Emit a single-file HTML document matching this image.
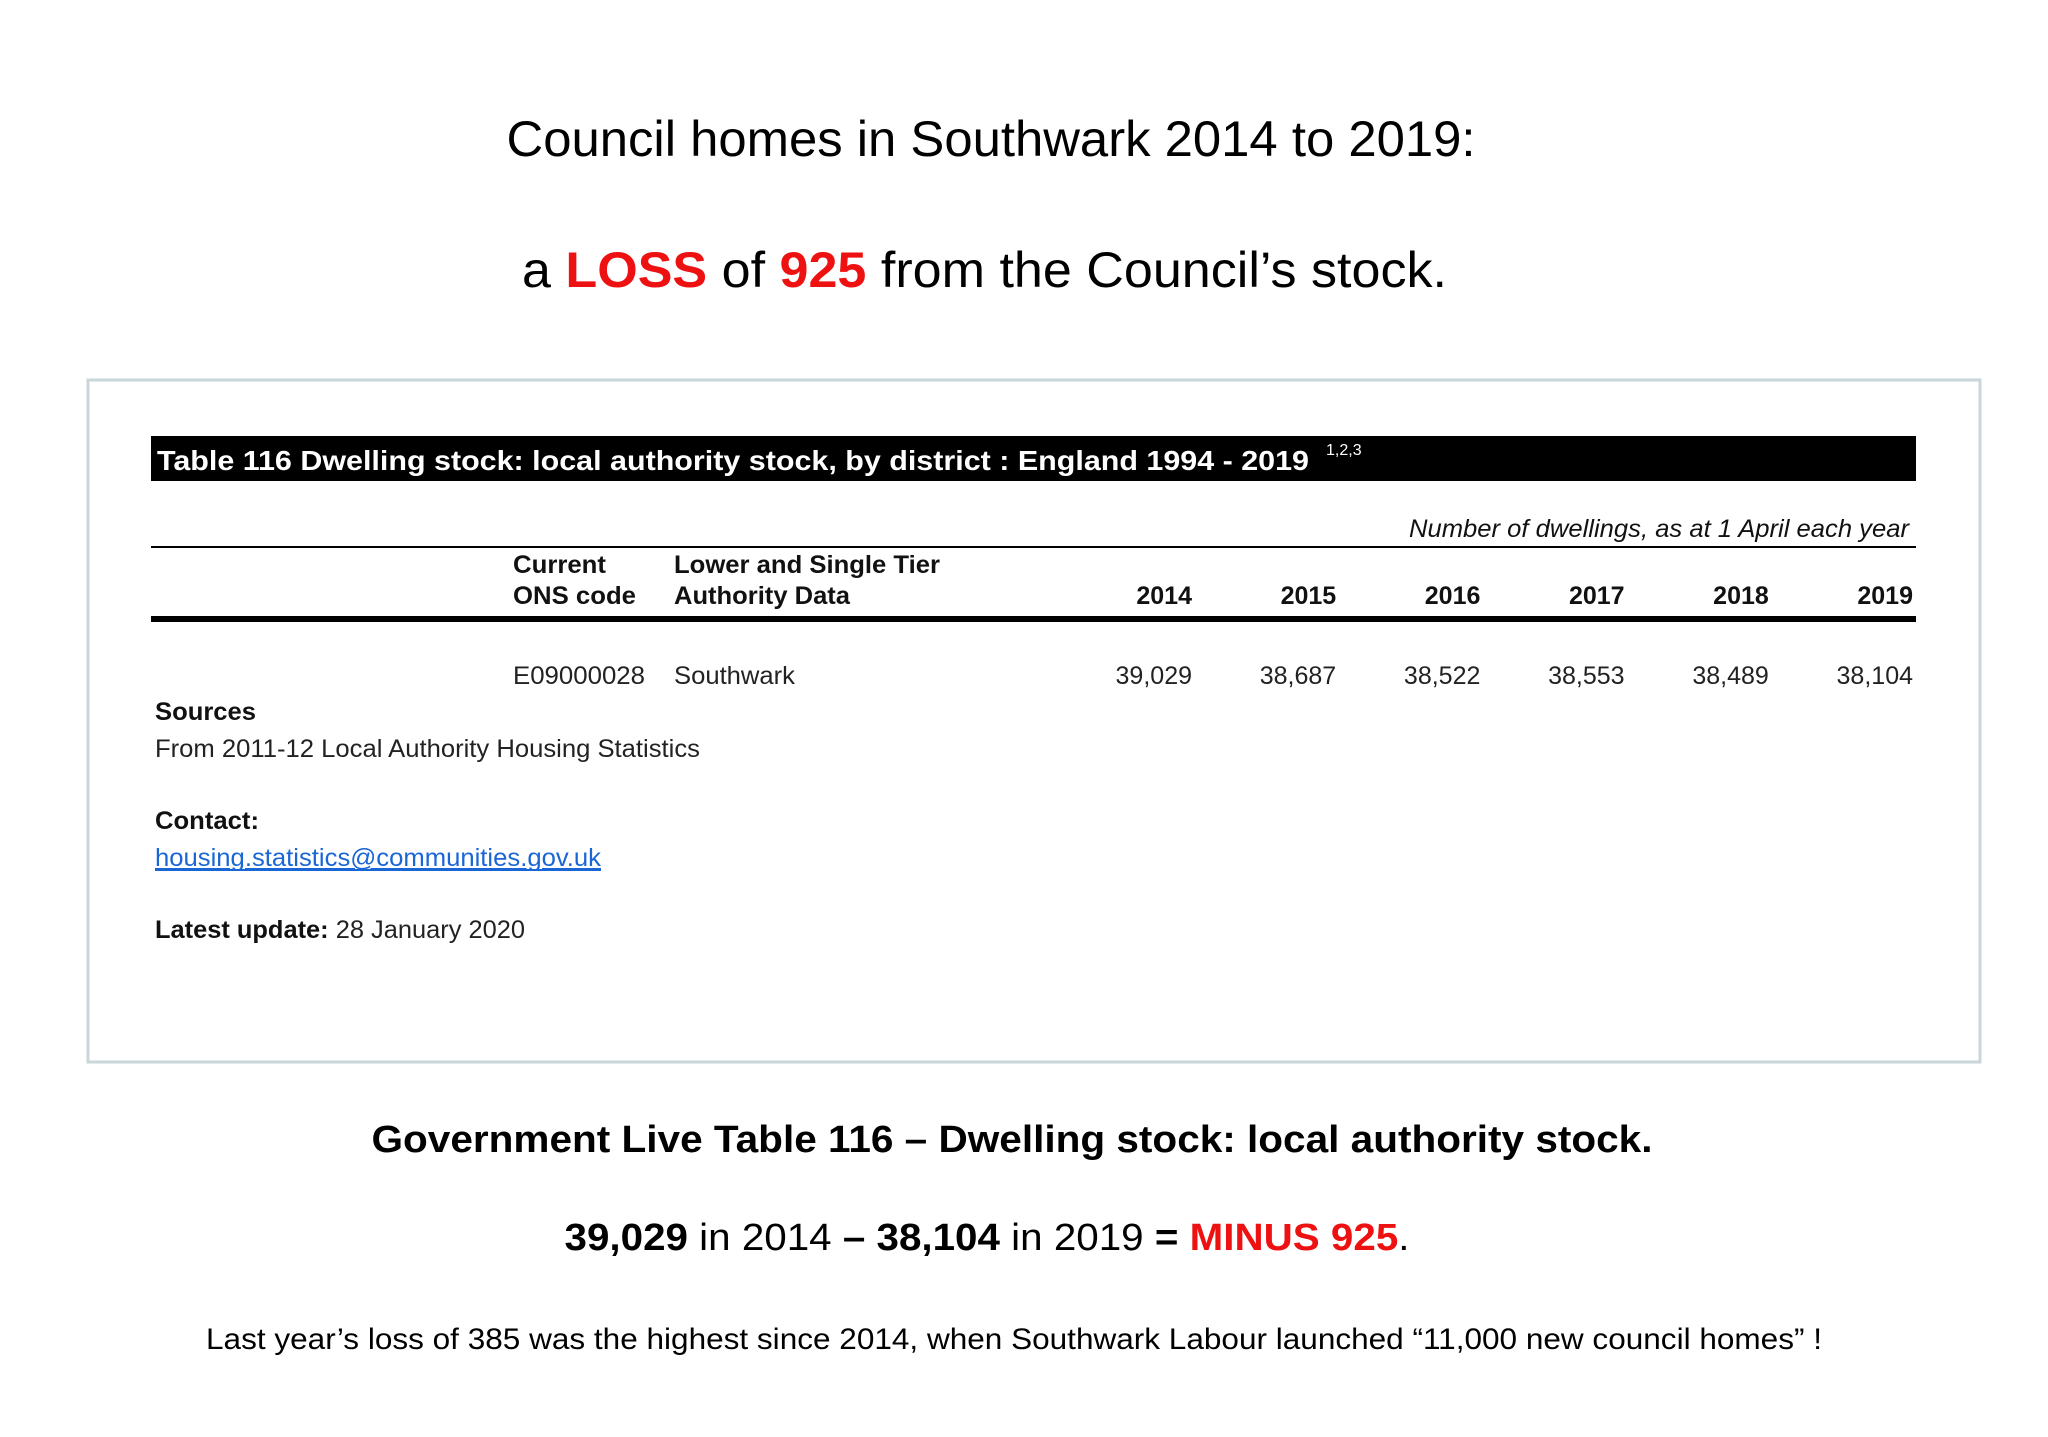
<!DOCTYPE html>
<html><head><meta charset="utf-8"><style>
html,body{margin:0;padding:0;background:#fff;width:2048px;height:1437px;overflow:hidden}
svg{display:block}
.g{font-family:"Liberation Sans",sans-serif}
</style></head><body>
<svg id="page" width="2048" height="1437" viewBox="0 0 2048 1437" class="g">
<text x="991" y="156" text-anchor="middle" font-size="50" textLength="969" lengthAdjust="spacingAndGlyphs" fill="#000">Council homes in Southwark 2014 to 2019:</text>
<text x="522" y="287" font-size="50" textLength="925" lengthAdjust="spacingAndGlyphs" fill="#000">a <tspan fill="#ee1111" font-weight="bold">LOSS</tspan> of <tspan fill="#ee1111" font-weight="bold">925</tspan> from the Council’s stock.</text>

<rect x="88" y="380" width="1892" height="682" fill="#fff" stroke="#c9d6da" stroke-width="3"/>
<rect x="151" y="436" width="1765" height="45" fill="#000"/>
<text x="157" y="470" font-size="28" font-weight="bold" fill="#fff" textLength="1152" lengthAdjust="spacingAndGlyphs">Table 116 Dwelling stock: local authority stock, by district : England 1994 - 2019</text>
<text x="1326" y="455" font-size="16" fill="#fff">1,2,3</text>
<text x="1909" y="537" text-anchor="end" font-size="25" font-style="italic" fill="#111" textLength="500" lengthAdjust="spacingAndGlyphs">Number of dwellings, as at 1 April each year</text>
<rect x="151" y="546" width="1765" height="2" fill="#000"/>
<g font-size="25" font-weight="bold" fill="#111">
<text x="513" y="573" textLength="93" lengthAdjust="spacingAndGlyphs">Current</text>
<text x="513" y="604" textLength="123" lengthAdjust="spacingAndGlyphs">ONS code</text>
<text x="674" y="573" textLength="266" lengthAdjust="spacingAndGlyphs">Lower and Single Tier</text>
<text x="674" y="604" textLength="176" lengthAdjust="spacingAndGlyphs">Authority Data</text>
</g>
<g id="years" font-size="25" font-weight="bold" fill="#111"></g>
<rect x="151" y="616" width="1765" height="6" fill="#000"/>
<g font-size="25" fill="#222">
<text x="513" y="684" textLength="132" lengthAdjust="spacingAndGlyphs">E09000028</text>
<text x="674" y="684" textLength="121" lengthAdjust="spacingAndGlyphs">Southwark</text>
</g>
<g id="vals" font-size="25" fill="#222"></g>
<text x="155" y="720" font-size="25" font-weight="bold" fill="#111" textLength="101" lengthAdjust="spacingAndGlyphs">Sources</text>
<text x="155" y="757" font-size="25" fill="#222" textLength="545" lengthAdjust="spacingAndGlyphs">From 2011-12 Local Authority Housing Statistics</text>
<text x="155" y="829" font-size="25" font-weight="bold" fill="#111" textLength="104" lengthAdjust="spacingAndGlyphs">Contact:</text>
<text x="155" y="866" font-size="25" fill="#1a66d6" text-decoration="underline" textLength="446" lengthAdjust="spacingAndGlyphs">housing.statistics@communities.gov.uk</text>
<rect x="155" y="869" width="446" height="2" fill="#1a66d6"/>
<text x="155" y="938" font-size="25" fill="#222" textLength="370" lengthAdjust="spacingAndGlyphs"><tspan font-weight="bold" fill="#111">Latest update:</tspan> 28 January 2020</text>

<text x="1012" y="1152" text-anchor="middle" font-size="38" font-weight="bold" fill="#000" textLength="1281" lengthAdjust="spacingAndGlyphs">Government Live Table 116 – Dwelling stock:  local authority stock.</text>
<text x="987" y="1250" text-anchor="middle" font-size="38" fill="#000" textLength="845" lengthAdjust="spacingAndGlyphs"><tspan font-weight="bold">39,029</tspan> in 2014 <tspan font-weight="bold">– 38,104</tspan> in 2019 <tspan font-weight="bold">=</tspan> <tspan font-weight="bold" fill="#ee1111">MINUS 925</tspan>.</text>
<text x="1014" y="1349" text-anchor="middle" font-size="30" fill="#000" textLength="1616" lengthAdjust="spacingAndGlyphs">Last year’s loss of 385 was the highest since 2014,  when Southwark Labour launched  “11,000 new council homes” !</text>
</svg>
<script>
const years = ["2014","2015","2016","2017","2018","2019"];
const stock = [39029, 38687, 38522, 38553, 38489, 38104];
const NS = "http://www.w3.org/2000/svg";
function colX(i){ return 1192 + i * 144.2; }
const yg = document.getElementById('years');
const vg = document.getElementById('vals');
years.forEach((y, i) => {
  const t = document.createElementNS(NS, 'text');
  t.setAttribute('x', colX(i)); t.setAttribute('y', 604); t.setAttribute('text-anchor', 'end');
  t.textContent = y;
  
  
  yg.appendChild(t);
});
stock.forEach((v, i) => {
  const t = document.createElementNS(NS, 'text');
  t.setAttribute('x', colX(i)); t.setAttribute('y', 684); t.setAttribute('text-anchor', 'end');
  t.textContent = v.toLocaleString('en-GB');
  
  
  vg.appendChild(t);
});
</script>
</body></html>
